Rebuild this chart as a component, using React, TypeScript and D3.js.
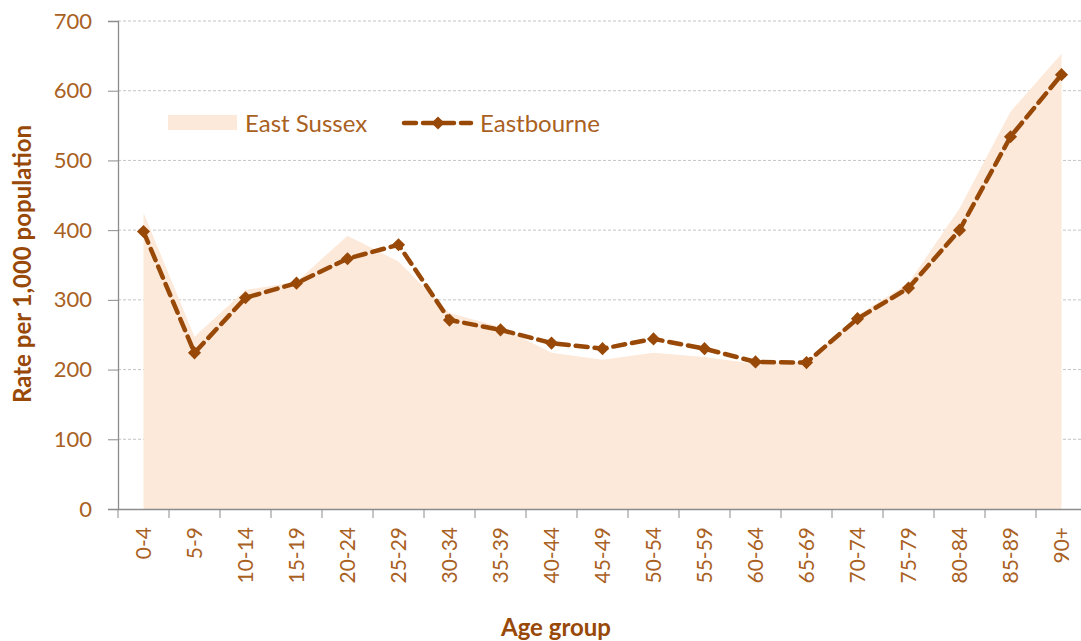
import { useEffect, useRef } from 'react'
import * as d3 from 'd3'

const AGE_GROUPS = ['0-4', '5-9', '10-14', '15-19', '20-24', '25-29', '30-34', '35-39', '40-44', '45-49',
  '50-54', '55-59', '60-64', '65-69', '70-74', '75-79', '80-84', '85-89', '90+']
const EAST_SUSSEX = [425, 247, 314, 326, 392, 355, 281, 261, 224, 214, 224, 218, 208, 211, 278, 324, 431, 570, 653]
const EASTBOURNE = [398, 224, 303, 324, 359, 379, 271, 257, 238, 230, 244, 230, 211, 210, 273, 317, 400, 534, 623]
const Y_TICKS = [0, 100, 200, 300, 400, 500, 600, 700]

const FONT = 'Lato, "Open Sans", sans-serif'
const TICK_COL = '#A9611F'
const DARK = '#984807'
const FILL = '#FCE9DA'

export default function App() {
  const ref = useRef<SVGSVGElement>(null)

  useEffect(() => {
    const svg = d3.select(ref.current)
    svg.selectAll('*').remove()

    const left = 118, right = 1087, top = 21, bottom = 509

    const x = d3.scaleBand().domain(AGE_GROUPS).range([left, right]).padding(0)
    const y = d3.scaleLinear().domain([0, 700]).range([bottom, top])
    const cx = (d: string) => x(d)! + x.bandwidth() / 2

    // gridlines
    svg.append('g')
      .selectAll('line')
      .data(Y_TICKS.filter(t => t > 0))
      .join('line')
      .attr('x1', left).attr('x2', 1081)
      .attr('y1', d => y(d)).attr('y2', d => y(d))
      .attr('stroke', '#c4c4c4').attr('stroke-width', 1).attr('stroke-dasharray', '3,2')

    // East Sussex area
    const area = d3.area<number>()
      .x((_, i) => cx(AGE_GROUPS[i]))
      .y0(y(0))
      .y1(d => y(d))
    svg.append('path').datum(EAST_SUSSEX).attr('d', area).attr('fill', FILL)

    // y axis
    const yAxis = svg.append('g')
      .attr('transform', `translate(${left},0)`)
      .call(d3.axisLeft(y).tickValues(Y_TICKS).tickSize(10).tickPadding(16))
    yAxis.select('.domain').attr('stroke', '#8c8c8c').attr('stroke-width', 1.3)
    yAxis.selectAll('line').attr('stroke', '#8c8c8c')
    yAxis.selectAll('text').attr('fill', TICK_COL).attr('font-family', FONT).attr('font-size', 22)

    // x axis
    const xAxis = svg.append('g')
      .attr('transform', `translate(0,${bottom})`)
      .call(d3.axisBottom(x).tickSize(0).tickPadding(0))
    xAxis.select('.domain').attr('stroke', '#8c8c8c').attr('stroke-width', 1.3)
    xAxis.selectAll('.tick text')
      .attr('fill', TICK_COL).attr('font-family', FONT).attr('font-size', 21)
      .attr('text-anchor', 'end').attr('dy', '0.35em')
      .attr('transform', 'translate(0,18) rotate(-90)')
      .attr('x', 0).attr('y', 0)
    svg.append('g')
      .selectAll('line')
      .data(d3.range(AGE_GROUPS.length + 1))
      .join('line')
      .attr('x1', i => left + i * x.bandwidth()).attr('x2', i => left + i * x.bandwidth())
      .attr('y1', bottom).attr('y2', bottom + 9)
      .attr('stroke', '#8c8c8c')

    // Eastbourne line
    const line = d3.line<number>()
      .x((_, i) => cx(AGE_GROUPS[i]))
      .y(d => y(d))
    svg.append('path').datum(EASTBOURNE).attr('d', line)
      .attr('fill', 'none').attr('stroke', DARK).attr('stroke-width', 4.5)
      .attr('stroke-dasharray', '12,7').attr('stroke-linecap', 'round')

    const diamond = d3.symbol(d3.symbolDiamond2, 110)
    svg.append('g')
      .selectAll('path')
      .data(EASTBOURNE)
      .join('path')
      .attr('d', diamond)
      .attr('transform', (d, i) => `translate(${cx(AGE_GROUPS[i])},${y(d)})`)
      .attr('fill', DARK)

    // legend
    svg.append('rect').attr('x', 168).attr('y', 115).attr('width', 69).attr('height', 15).attr('fill', FILL)
    svg.append('text').attr('x', 245).attr('y', 132).text('East Sussex')
      .attr('fill', TICK_COL).attr('font-family', FONT).attr('font-size', 24)
    svg.append('line').attr('x1', 404).attr('x2', 471).attr('y1', 123).attr('y2', 123)
      .attr('stroke', DARK).attr('stroke-width', 4.5).attr('stroke-dasharray', '12,7').attr('stroke-linecap', 'round')
    svg.append('path').attr('d', diamond).attr('transform', 'translate(438,123)').attr('fill', DARK)
    svg.append('text').attr('x', 480).attr('y', 132).text('Eastbourne')
      .attr('fill', TICK_COL).attr('font-family', FONT).attr('font-size', 24)

    // axis titles
    svg.append('text')
      .attr('transform', 'translate(31,264) rotate(-90)')
      .attr('text-anchor', 'middle')
      .attr('fill', DARK).attr('font-family', FONT).attr('font-weight', 'bold').attr('font-size', 24)
      .text('Rate per 1,000 population')
    svg.append('text')
      .attr('x', 556).attr('y', 636)
      .attr('text-anchor', 'middle')
      .attr('fill', DARK).attr('font-family', FONT).attr('font-weight', 'bold').attr('font-size', 24)
      .text('Age group')
  }, [])

  return (
    <svg ref={ref} width={1081} height={641}
      style={{ position: 'absolute', left: 0, top: 0, background: '#fff', overflow: 'hidden' }} />
  )
}
